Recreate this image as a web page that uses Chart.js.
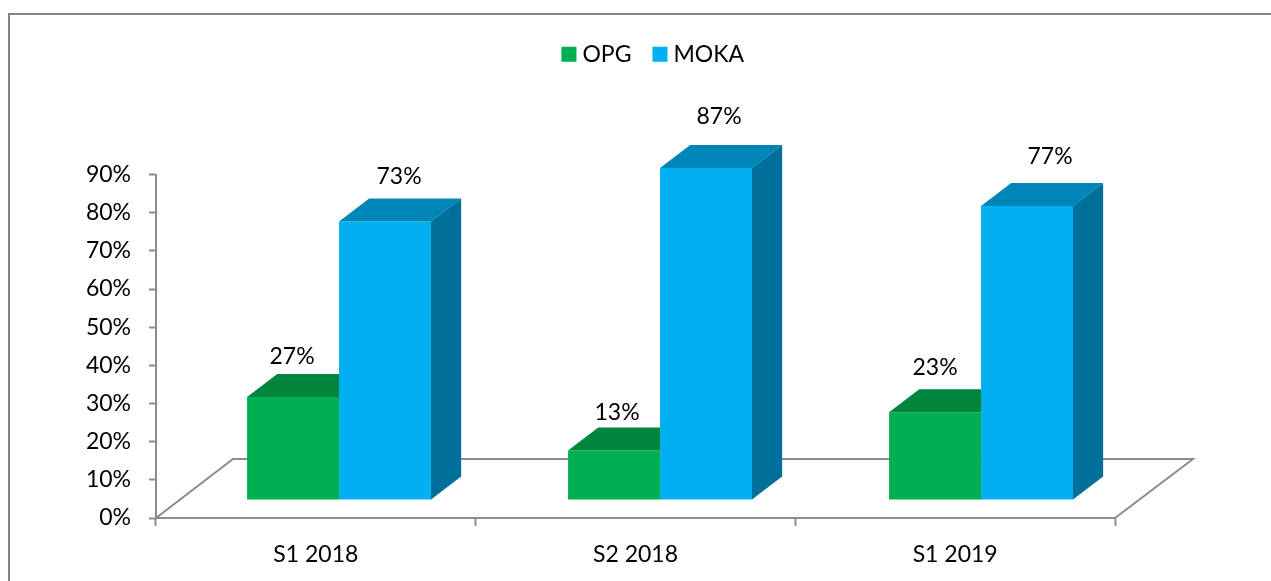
<!DOCTYPE html>
<html><head><meta charset="utf-8">
<style>html,body{margin:0;padding:0;background:#fff}canvas{display:block}</style>
<script src="https://cdn.jsdelivr.net/npm/chart.js@4"></script>
</head><body><canvas id="c" width="1271" height="581"></canvas>
<script>
const categories = ['S1 2018', 'S2 2018', 'S1 2019'];
const opgValues = [27, 13, 23];
const mokaValues = [73, 87, 77];
const labelNudgeX = [[-1, 3, 0], [14, 13, 23]];
const labelNudgeY = [[40, 38, 45], [45, 51, 50]];
const FONT = 'Lato';
const GREY = '#8c8c8c';
const faces = [{top:'#00853c', side:null}, {top:'#0086b6', side:'#00709a'}];
const DEPTH_X = 30, DEPTH_Y = 23, SX = 1.00416, TX = 21.9, TY = -18;

const threeD = {
  id: 'threeD',
  beforeDraw(chart) {
    const c = chart.ctx;
    c.save(); c.strokeStyle = '#858585'; c.lineWidth = 2; c.beginPath();
    c.moveTo(9, 581); c.lineTo(9, 14); c.lineTo(1271, 14); c.stroke(); c.restore();
  },
  beforeDatasetsDraw(chart) {
    const c = chart.ctx, a = chart.chartArea;
    c.save(); c.strokeStyle = GREY; c.lineWidth = 2; c.beginPath();
    c.moveTo(a.left, a.bottom); c.lineTo(a.left + 77, a.bottom - 59);
    c.lineTo(a.right + 78, a.bottom - 59); c.lineTo(a.right, a.bottom); c.stroke(); c.restore();
    c.save(); c.transform(SX, 0, 0, 1, TX, TY);
  },
  afterDatasetDraw(chart, args) {
    const c = chart.ctx, f = faces[args.index];
    args.meta.data.forEach(el => {
      const l = el.x - el.width / 2, r = el.x + el.width / 2, t = el.y, b = el.base;
      const hidden = !f.side;
      c.fillStyle = f.top; c.beginPath();
      c.moveTo(l, t); c.lineTo(l + DEPTH_X, t - DEPTH_Y);
      c.lineTo(hidden ? r : r + DEPTH_X, t - DEPTH_Y); c.lineTo(r, t); c.closePath(); c.fill();
      if (!hidden) {
        c.fillStyle = f.side; c.beginPath();
        c.moveTo(r, t); c.lineTo(r + DEPTH_X, t - DEPTH_Y); c.lineTo(r + DEPTH_X, b - DEPTH_Y); c.lineTo(r, b); c.closePath(); c.fill();
      }
    });
  },
  afterDatasetsDraw(chart) {
    const c = chart.ctx;
    c.restore();
    c.save(); c.fillStyle = '#000'; c.font = '23px ' + FONT; c.textAlign = 'center'; c.textBaseline = 'middle';
    chart.data.datasets.forEach((ds, d) => {
      chart.getDatasetMeta(d).data.forEach((el, i) => {
        c.fillText(ds.data[i] + '%', el.x * SX + TX + labelNudgeX[d][i], el.y + TY - labelNudgeY[d][i]);
      });
    });
    c.restore();
  },
  afterLayout(chart) {
    const L = chart.legend, h = L.height;
    L.top = 46 - h / 2; L.bottom = L.top + h;
    L.left += 98; L.right += 98;
  }
};

new Chart(document.getElementById('c'), {
  type: 'bar',
  plugins: [threeD],
  data: {
    labels: categories,
    datasets: [
      {label: 'OPG', data: opgValues, backgroundColor: '#00b050', clip: false},
      {label: 'MOKA', data: mokaValues, backgroundColor: '#00b0f0', clip: false}
    ]
  },
  options: {
    responsive: false,
    animation: false,
    devicePixelRatio: 1,
    layout: {padding: {top: 115, right: 156, left: 0, bottom: 0}},
    categoryPercentage: 0.573,
    barPercentage: 1,
    plugins: {
      tooltip: {enabled: false},
      legend: {
        position: 'top',
        labels: {usePointStyle: true, pointStyle: 'rect', boxWidth: 4, boxHeight: 15, padding: 26.5, color: '#000', font: {family: FONT, size: 23}}
      }
    },
    scales: {
      x: {
        afterFit(s) { s.height = 63; },
        grid: {drawOnChartArea: false, drawTicks: true, tickLength: 8, tickColor: GREY, tickWidth: 2},
        border: {color: GREY, width: 2},
        ticks: {color: '#000', font: {family: FONT, size: 23}, padding: 15, maxRotation: 0}
      },
      y: {
        min: 0, max: 90,
        afterFit(s) { s.width = 156; },
        grid: {drawOnChartArea: false, drawTicks: true, tickLength: 7, tickColor: GREY, tickWidth: 2},
        border: {color: GREY, width: 2},
        ticks: {stepSize: 10, color: '#000', font: {family: FONT, size: 23}, padding: 18, callback: v => v + '%'}
      }
    }
  }
});
</script></body></html>
